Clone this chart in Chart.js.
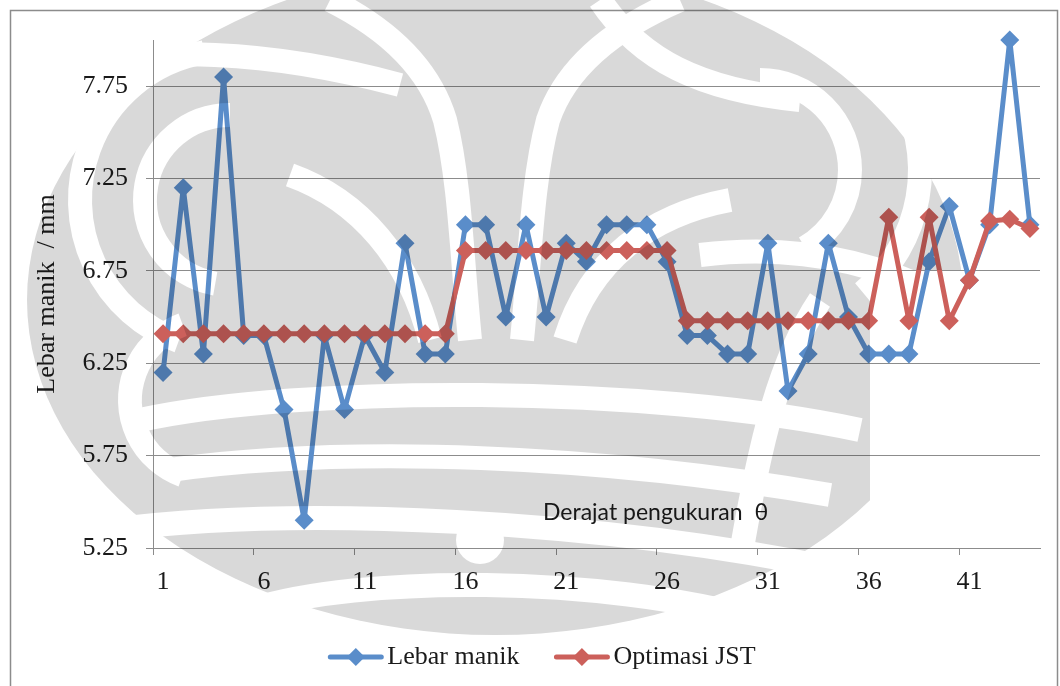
<!DOCTYPE html>
<html>
<head>
<meta charset="utf-8">
<script src="https://cdn.jsdelivr.net/npm/chart.js@4.4.0/dist/chart.umd.min.js"></script>
<style>
  html, body { margin: 0; padding: 0; background: #fff; }
  #wrap { width: 1060px; height: 686px; }
</style>
</head>
<body>
<div id="wrap"><canvas id="chart" width="1060" height="686"></canvas></div>
<script>
// measurement index along the bead
const measurePoints = [
  1, 2, 3, 4, 5, 6, 7, 8, 9, 10, 11, 12, 13, 14, 15, 16, 17, 18, 19, 20, 21, 22,
  23, 24, 25, 26, 27, 28, 29, 30, 31, 32, 33, 34, 35, 36, 37, 38, 39, 40, 41, 42, 43, 44
];

// measured bead width (mm)
const lebarManik = [
  6.2, 7.2, 6.3, 7.8, 6.4, 6.4, 6.0, 5.4, 6.4, 6.0,
  6.4, 6.2, 6.9, 6.3, 6.3, 7.0, 7.0, 6.5, 7.0, 6.5,
  6.9, 6.8, 7.0, 7.0, 7.0, 6.8, 6.4, 6.4, 6.3, 6.3,
  6.9, 6.1, 6.3, 6.9, 6.5, 6.3, 6.3, 6.3, 6.8, 7.1,
  6.7, 7.0, 8.0, 7.0
];

// ANN optimised width (mm)
const optimasiJST = [
  6.41, 6.41, 6.41, 6.41, 6.41, 6.41, 6.41, 6.41, 6.41, 6.41,
  6.41, 6.41, 6.41, 6.41, 6.41, 6.86, 6.86, 6.86, 6.86, 6.86,
  6.86, 6.86, 6.86, 6.86, 6.86, 6.86, 6.48, 6.48, 6.48, 6.48,
  6.48, 6.48, 6.48, 6.48, 6.48, 6.48, 7.04, 6.48, 7.04, 6.48,
  6.70, 7.02, 7.03, 6.98
];

const yTicks = [5.25, 5.75, 6.25, 6.75, 7.25, 7.75];

const serif = 'Liberation Serif';
const axisGray = '#8c8c8c';
const textColor = '#1a1a1a';

// emblem behind the plot: a grey body with light stripes cut out of it
// arcs: ['a', cx, cy, r, fromDeg, toDeg]; curves: ['c', x0, y0, (c1x, c1y, c2x, c2y, x, y)...]
const emblemStripes = [
  ['c', 60, 70, 150, 45, 270, 50, 400, 85],
  ['a', 230, 200, 85, 100, 270],
  ['a', 230, 200, 150, 110, 260],
  ['a', 210, 400, 80, 110, 250],
  ['a', 760, 170, 90, -90, 60],
  ['a', 760, 170, 160, -80, 50],
  ['c', 600, 0, 640, 60, 700, 90, 800, 100],
  ['c', 700, 255, 780, 245, 860, 255, 940, 295],
  ['c', 470, 340, 462, 260, 460, 180, 445, 120, 430, 70, 390, 30, 330, 0],
  ['c', 522, 340, 530, 260, 532, 180, 548, 120, 565, 70, 610, 30, 680, 0],
  ['c', 430, 340, 410, 260, 360, 200, 290, 175],
  ['c', 565, 340, 590, 260, 650, 215, 730, 200],
  ['c', 140, 420, 300, 385, 650, 385, 860, 430],
  ['c', 170, 470, 350, 445, 600, 455, 830, 495],
  ['c', 110, 530, 300, 505, 600, 520, 840, 570],
  ['c', 250, 610, 360, 575, 600, 575, 760, 620],
  ['c', 820, 300, 780, 360, 760, 440, 740, 560]
];

function drawEmblem(ctx, w, h) {
  const off = document.createElement('canvas');
  off.width = w;
  off.height = h;
  const o = off.getContext('2d');
  o.fillStyle = '#d9d9d9';
  o.beginPath();
  o.ellipse(495, 300, 468, 335, 0, 0, Math.PI * 2);
  o.fill();

  o.globalCompositeOperation = 'destination-out';
  o.fillRect(870, 270, 200, 420);
  o.lineWidth = 24;
  o.lineCap = 'butt';
  emblemStripes.forEach(s => {
    o.beginPath();
    if (s[0] === 'a') {
      o.arc(s[1], s[2], s[3], s[4] * Math.PI / 180, s[5] * Math.PI / 180);
    } else {
      o.moveTo(s[1], s[2]);
      for (let i = 3; i + 5 < s.length; i += 6) {
        o.bezierCurveTo(s[i], s[i + 1], s[i + 2], s[i + 3], s[i + 4], s[i + 5]);
      }
    }
    o.stroke();
  });
  o.beginPath();
  o.arc(480, 540, 24, 0, Math.PI * 2);
  o.fill();

  ctx.save();
  ctx.globalCompositeOperation = 'multiply';
  ctx.drawImage(off, 0, 0);
  ctx.restore();
}

// legend, in-plot axis caption, frame and emblem
const decor = {
  id: 'decor',
  afterDraw(chart) {
    const ctx = chart.ctx;
    ctx.save();

    ctx.fillStyle = textColor;
    ctx.font = '23px Lato';
    ctx.textBaseline = 'alphabetic';
    ctx.textAlign = 'left';
    ctx.fillText('Derajat pengukuran  \u03b8', 543, 520, 242);

    ctx.font = '26px "' + serif + '"';
    ctx.textBaseline = 'middle';
    const sample = 55, gapText = 4, gapItem = 35;
    const items = chart.data.datasets.map(ds => ({ ds, w: ctx.measureText(ds.label).width }));
    const total = items.reduce((a, it) => a + sample + gapText + it.w, 0) + gapItem * (items.length - 1);
    let x = 542 - total / 2;
    const y = 657;
    items.forEach(it => {
      ctx.strokeStyle = it.ds.borderColor;
      ctx.lineWidth = 5;
      ctx.lineCap = 'round';
      ctx.beginPath();
      ctx.moveTo(x + 2, y);
      ctx.lineTo(x + sample - 2, y);
      ctx.stroke();
      const cx = x + sample / 2;
      ctx.fillStyle = it.ds.borderColor;
      ctx.beginPath();
      ctx.moveTo(cx - 9, y);
      ctx.lineTo(cx, y - 9);
      ctx.lineTo(cx + 9, y);
      ctx.lineTo(cx, y + 9);
      ctx.closePath();
      ctx.fill();
      ctx.fillStyle = textColor;
      ctx.fillText(it.ds.label, x + sample + gapText, y);
      x += sample + gapText + it.w + gapItem;
    });

    ctx.strokeStyle = axisGray;
    ctx.lineWidth = 1.5;
    ctx.strokeRect(10.5, 10.5, 1047, 700);
    ctx.restore();

    drawEmblem(ctx, chart.width, chart.height);
  }
};

new Chart(document.getElementById('chart'), {
  type: 'line',
  data: {
    labels: measurePoints,
    datasets: [
      {
        label: 'Lebar manik',
        data: lebarManik,
        borderColor: '#5a8dca',
        backgroundColor: '#5a8dca',
        borderWidth: 5,
        borderJoinStyle: 'round',
        pointStyle: 'rectRot',
        pointRadius: 9.5,
        pointBorderWidth: 0,
        tension: 0,
        clip: false,
        order: 1
      },
      {
        label: 'Optimasi JST',
        data: optimasiJST,
        borderColor: '#cc605b',
        backgroundColor: '#cc605b',
        borderWidth: 5,
        borderJoinStyle: 'round',
        pointStyle: 'rectRot',
        pointRadius: 9.5,
        pointBorderWidth: 0,
        tension: 0,
        clip: false,
        order: 0
      }
    ]
  },
  options: {
    responsive: false,
    animation: false,
    devicePixelRatio: 1,
    layout: { padding: { left: 0, right: 20, top: 40, bottom: 0 } },
    plugins: {
      legend: { display: false },
      tooltip: { enabled: false }
    },
    scales: {
      x: {
        type: 'category',
        offset: true,
        afterFit: s => { s.height = 138; },
        border: { color: axisGray, width: 1 },
        grid: {
          offset: true,
          drawOnChartArea: false,
          tickLength: 7,
          color: c => (c.index % 5 === 0 ? axisGray : 'rgba(0,0,0,0)')
        },
        ticks: {
          autoSkip: false,
          maxRotation: 0,
          padding: 12,
          color: textColor,
          font: { family: serif, size: 26 },
          callback: function (v, i) { return i % 5 === 0 ? this.getLabelForValue(v) : ''; }
        }
      },
      y: {
        min: 5.25,
        max: 8.0,
        afterBuildTicks: s => { s.ticks = yTicks.map(v => ({ value: v })); },
        afterFit: s => { s.width = 153; },
        border: { color: axisGray, width: 1 },
        grid: { color: axisGray, lineWidth: 1, tickLength: 7 },
        ticks: {
          padding: 18,
          color: textColor,
          font: { family: serif, size: 26 },
          callback: v => Number(v).toFixed(2)
        },
        title: {
          display: true,
          text: 'Lebar manik  / mm',
          color: textColor,
          font: { family: serif, size: 26 },
          padding: { top: 32, bottom: 0 }
        }
      }
    }
  },
  plugins: [decor]
});
</script>
</body>
</html>
